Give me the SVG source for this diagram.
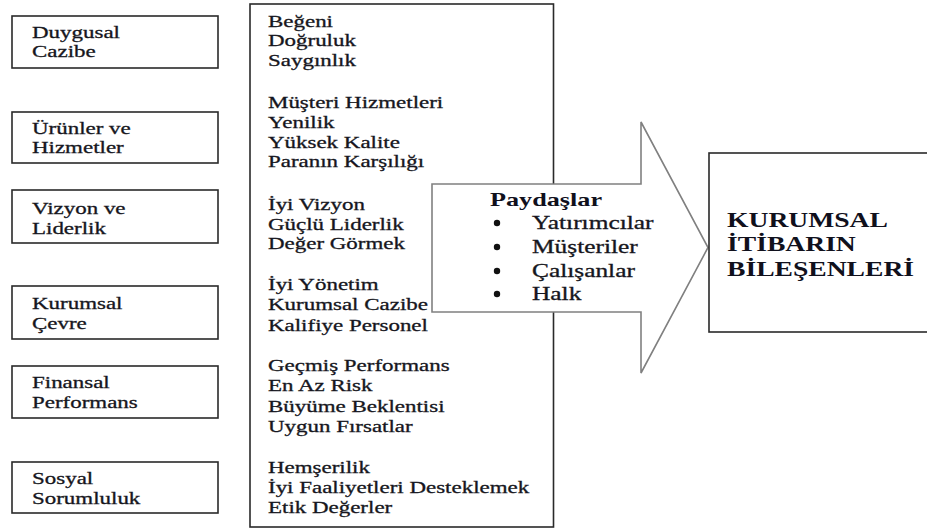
<svg xmlns="http://www.w3.org/2000/svg" width="927" height="528" viewBox="0 0 927 528">
<style>
.box{fill:#fff;stroke:#2a2a2a;stroke-width:1.6}
.t{font-family:"Liberation Serif","Times New Roman",serif;font-size:17px;fill:#161620;stroke:#161620;stroke-width:0.3}
.p{font-family:"Liberation Serif","Times New Roman",serif;font-size:18px;fill:#161620;stroke:#161620;stroke-width:0.3}
.pb{font-family:"Liberation Serif","Times New Roman",serif;font-size:19px;font-weight:bold;fill:#10101c}
.big{font-family:"Liberation Serif","Times New Roman",serif;font-size:20px;font-weight:bold;fill:#10101c}
.arrow{fill:#fff;stroke:#808080;stroke-width:1.6}
</style>
<rect width="927" height="528" fill="#fff"/>
<g id="duygusal-cazibe">
<rect class="box" x="12" y="16" width="206" height="52"/>
<text class="t" transform="translate(32 0) scale(1.35 1)"><tspan x="0" y="38">Duygusal</tspan><tspan x="0" y="57.5">Cazibe</tspan></text>
</g>
<g id="urunler-hizmetler">
<rect class="box" x="12" y="112" width="206" height="51"/>
<text class="t" transform="translate(32 0) scale(1.35 1)"><tspan x="0" y="134">Ürünler ve</tspan><tspan x="0" y="153.5">Hizmetler</tspan></text>
</g>
<g id="vizyon-liderlik">
<rect class="box" x="12" y="190" width="206" height="53"/>
<text class="t" transform="translate(32 0) scale(1.35 1)"><tspan x="0" y="214">Vizyon ve</tspan><tspan x="0" y="234">Liderlik</tspan></text>
</g>
<g id="kurumsal-cevre">
<rect class="box" x="12" y="286" width="206" height="53"/>
<text class="t" transform="translate(32 0) scale(1.35 1)"><tspan x="0" y="309">Kurumsal</tspan><tspan x="0" y="329">Çevre</tspan></text>
</g>
<g id="finansal-performans">
<rect class="box" x="12" y="366" width="206" height="52"/>
<text class="t" transform="translate(32 0) scale(1.35 1)"><tspan x="0" y="388">Finansal</tspan><tspan x="0" y="408">Performans</tspan></text>
</g>
<g id="sosyal-sorumluluk">
<rect class="box" x="12" y="462" width="206" height="51"/>
<text class="t" transform="translate(32 0) scale(1.35 1)"><tspan x="0" y="484">Sosyal</tspan><tspan x="0" y="504">Sorumluluk</tspan></text>
</g>
<g id="olcutler">
<rect class="box" x="250" y="4" width="303.5" height="523"/>
<text class="t" transform="translate(268 0) scale(1.35 1)">
<tspan x="0" y="27">Beğeni</tspan><tspan x="0" y="46.5">Doğruluk</tspan><tspan x="0" y="66">Saygınlık</tspan>
<tspan x="0" y="108">Müşteri Hizmetleri</tspan><tspan x="0" y="128">Yenilik</tspan><tspan x="0" y="148">Yüksek Kalite</tspan><tspan x="0" y="167.5">Paranın Karşılığı</tspan>
<tspan x="0" y="210">İyi Vizyon</tspan><tspan x="0" y="230">Güçlü Liderlik</tspan><tspan x="0" y="249.5">Değer Görmek</tspan>
<tspan x="0" y="290">İyi Yönetim</tspan><tspan x="0" y="310.5">Kurumsal Cazibe</tspan><tspan x="0" y="331">Kalifiye Personel</tspan>
<tspan x="0" y="371">Geçmiş Performans</tspan><tspan x="0" y="391">En Az Risk</tspan><tspan x="0" y="412">Büyüme Beklentisi</tspan><tspan x="0" y="432">Uygun Fırsatlar</tspan>
<tspan x="0" y="473">Hemşerilik</tspan><tspan x="0" y="493">İyi Faaliyetleri Desteklemek</tspan><tspan x="0" y="513">Etik Değerler</tspan>
</text>
</g>
<g id="connectors"></g>
<g id="paydaslar">
<path class="arrow" d="M432 184 H641 V122 L708 247.5 L641 373 V312 H432 Z"/>
<text class="pb" transform="translate(490 206) scale(1.38 1)">Paydaşlar</text>
<g fill="#111">
<circle cx="497" cy="223" r="3.2"/>
<circle cx="497" cy="247" r="3.2"/>
<circle cx="497" cy="271" r="3.2"/>
<circle cx="497" cy="294" r="3.2"/>
</g>
<text class="p" transform="translate(532 0) scale(1.41 1)"><tspan x="0" y="229">Yatırımcılar</tspan><tspan x="0" y="253">Müşteriler</tspan><tspan x="0" y="277">Çalışanlar</tspan><tspan x="0" y="300">Halk</tspan></text>
</g>
<g id="kurumsal-itibar">
<rect class="box" x="709" y="153" width="230" height="179"/>
<text class="big" transform="translate(727 0) scale(1.38 1)"><tspan x="0" y="227">KURUMSAL</tspan><tspan x="0" y="251.5">İTİBARIN</tspan><tspan x="0" y="276">BİLEŞENLERİ</tspan></text>
</g>
</svg>
